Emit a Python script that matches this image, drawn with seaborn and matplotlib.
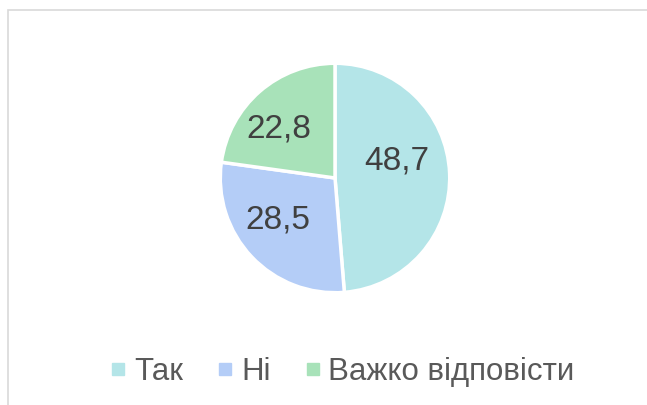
import matplotlib
matplotlib.use("Agg")
import matplotlib.pyplot as plt
from matplotlib.lines import Line2D
from matplotlib.patches import Rectangle
import seaborn as sns

# --- Data ---
categories = ["Так", "Ні", "Важко відповісти"]
values     = [48.7, 28.5, 22.8]
colors     = ["#b4e5e8", "#b4cdf7", "#a8e2b9"]

# label anchor points inside each slice (fraction of the radius)
label_pos = [(0.54, 0.15), (-0.50, -0.37), (-0.49, 0.43)]

sns.set_theme(style="white")
plt.rcParams["font.family"] = ["Liberation Sans", "DejaVu Sans"]

W, H = 647, 405
fig = plt.figure(figsize=(W / 100, H / 100), dpi=100)

# chart frame (cut off at right/bottom like the screenshot)
fig.patches.append(Rectangle((7.5 / W, -0.1), 1.2, 1 - 10.5 / H + 0.1,
                             transform=fig.transFigure, fill=False,
                             edgecolor="#d9d9d9", lw=1.2))

# pie centre (335,178), radius 117 px
cx, cy, r = 335, 178, 117
ax = fig.add_axes([(cx - r) / W, 1 - (cy + r) / H, 2 * r / W, 2 * r / H])

wedges, _, autotexts = ax.pie(
    values, colors=colors, startangle=90, counterclock=False,
    autopct=lambda p: f"{p:.1f}".replace(".", ","), pctdistance=0.6,
    wedgeprops=dict(edgecolor="white", linewidth=2.5),
    textprops=dict(fontsize=24, color="#404040"))
for t, pos in zip(autotexts, label_pos):
    t.set_position(pos)
ax.set_xlim(-1.02, 1.02)
ax.set_ylim(-1.02, 1.02)
ax.set_aspect("equal")
ax.axis("off")

handles = [Line2D([], [], marker="s", linestyle="none", markersize=9,
                  markerfacecolor=c, markeredgecolor=c) for c in colors]
fig.legend(handles, categories, loc="center", ncol=3,
           bbox_to_anchor=(341 / W, 1 - 372 / H), frameon=False,
           fontsize=22.5, labelcolor="#595959", handletextpad=0.15,
           columnspacing=1.0, handlelength=0.7)

fig.savefig("out.png", dpi=100)
